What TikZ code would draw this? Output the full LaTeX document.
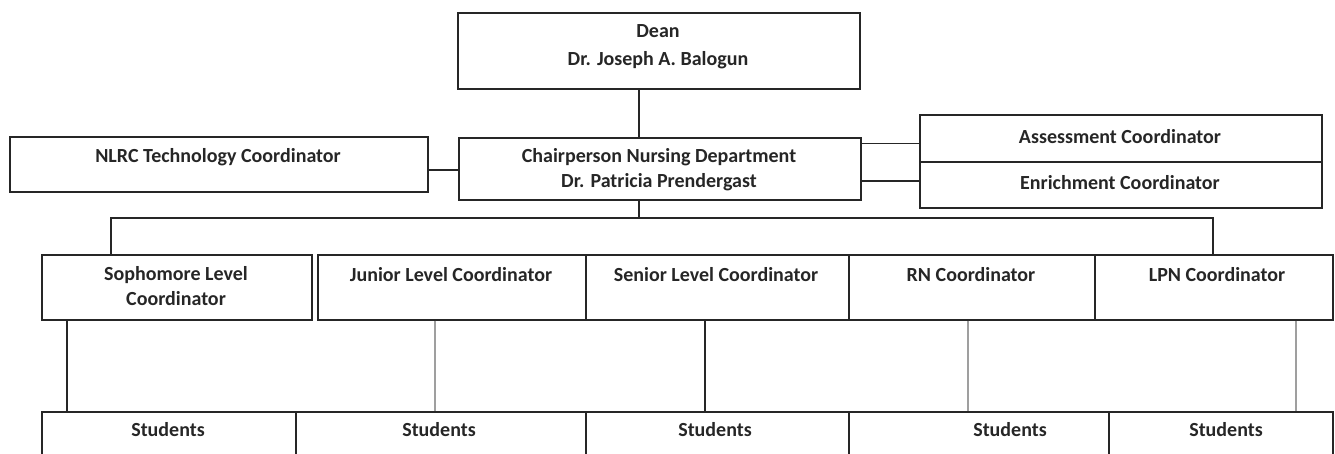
\documentclass[tikz,border=0pt]{standalone}
\usepackage{fontspec}
\setmainfont{Carlito}
\begin{document}
\begin{tikzpicture}[x=1pt,y=-1pt,
  box/.style={draw=black!85, line width=1.6pt, inner sep=0pt, anchor=north west},
  txt/.style={font=\fontsize{20}{24}\selectfont\bfseries, text=black!85, inner sep=0pt},
  conn/.style={line width=1.6pt, draw=black!85},
  lightconn/.style={line width=1.6pt, draw=gray!75}]
\useasboundingbox (0,0) rectangle (1335,454);
\clip (0,0) rectangle (1335,454);
% boxes
\node[box, minimum width=402, minimum height=76] (dean) at (457,12) {};
\node[box, minimum width=402, minimum height=62] (chair) at (458,137) {};
\node[box, minimum width=418, minimum height=55] (nlrc) at (9,136) {};
\node[box, minimum width=402, minimum height=47] (assess) at (919,114) {};
\node[box, minimum width=402, minimum height=46] (enrich) at (919,161) {};
\node[box, minimum width=270, minimum height=65] (soph) at (41,254) {};
\node[box, minimum width=268, minimum height=65] (junior) at (317,254) {};
\node[box, minimum width=263, minimum height=65] (senior) at (585,254) {};
\node[box, minimum width=246, minimum height=65] (rn) at (848,254) {};
\node[box, minimum width=238, minimum height=65] (lpn) at (1094,254) {};
\node[box, minimum width=254, minimum height=80] (st1) at (41,411) {};
\node[box, minimum width=290, minimum height=80] (st2) at (295,411) {};
\node[box, minimum width=263, minimum height=80] (st3) at (585,411) {};
\node[box, minimum width=260, minimum height=80] (st4) at (848,411) {};
\node[box, minimum width=224, minimum height=80] (st5) at (1108,411) {};
% texts
\node[txt] (deanA) at (658,31) {Dean};
\node[txt] (deanB) at (658,60) {Dr. Joseph A. Balogun};
\node[txt] (chairA) at (659,157) {Chairperson Nursing Department};
\node[txt] (chairB) at (659,182) {Dr. Patricia Prendergast};
\node[txt] (nlrcT) at (218,157) {NLRC Technology Coordinator};
\node[txt] (assessT) at (1120,137) {Assessment Coordinator};
\node[txt] (enrichT) at (1120,183) {Enrichment Coordinator};
\node[txt] (sophA) at (176,275) {Sophomore Level};
\node[txt] (sophB) at (176,299) {Coordinator};
\node[txt] (juniorT) at (451,275) {Junior Level Coordinator};
\node[txt] (seniorT) at (716,275) {Senior Level Coordinator};
\node[txt] (rnT) at (971,275) {RN Coordinator};
\node[txt] (lpnT) at (1217,275) {LPN Coordinator};
\node[txt] (stA) at (168,430) {Students};
\node[txt] (stB) at (439,430) {Students};
\node[txt] (stC) at (715,430) {Students};
\node[txt] (stD) at (1010,430) {Students};
\node[txt] (stE) at (1226,430) {Students};
% helper coordinates
\coordinate (cA) at (639,0);
\coordinate (cN) at (0,170);
\coordinate (cAs) at (0,143.5);
\coordinate (cEn) at (0,181);
\coordinate (barL) at (111,218);
\coordinate (barR) at (1213,218);
\coordinate (x1) at (67,0);
\coordinate (x2) at (435,0);
\coordinate (x3) at (705,0);
\coordinate (x4) at (968,0);
\coordinate (x5) at (1296,0);
% connectors
\draw[conn] (dean.south -| cA) -- (chair.north -| cA);
\draw[conn] (nlrc.east |- cN) -- (chair.west |- cN);
\draw[conn] (chair.east |- cAs) -- (assess.west |- cAs);
\draw[conn] (chair.east |- cEn) -- (enrich.west |- cEn);
\draw[conn] (chair.south -| cA) -- (cA |- barL);
\draw[conn] (soph.north -| barL) -- (barL) -- (barR) -- (lpn.north -| barR);
\draw[conn] (soph.south -| x1) -- (st1.north -| x1);
\draw[lightconn] (junior.south -| x2) -- (st2.north -| x2);
\draw[conn] (senior.south -| x3) -- (st3.north -| x3);
\draw[lightconn] (rn.south -| x4) -- (st4.north -| x4);
\draw[lightconn] (lpn.south -| x5) -- (st5.north -| x5);
\end{tikzpicture}
\end{document}
